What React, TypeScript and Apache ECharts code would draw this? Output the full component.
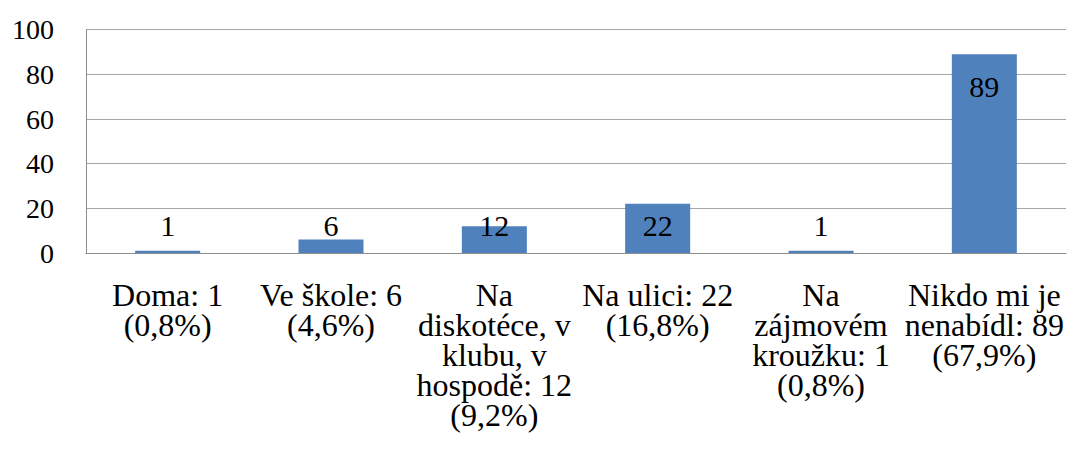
import React, { useEffect, useRef } from "react";
import * as echarts from "echarts";

const categories = [
  "Doma: 1\n(0,8%)",
  "Ve škole: 6\n(4,6%)",
  "Na\ndiskotéce, v\nklubu, v\nhospodě: 12\n(9,2%)",
  "Na ulici: 22\n(16,8%)",
  "Na\nzájmovém\nkroužku: 1\n(0,8%)",
  "Nikdo mi je\nnenabídl: 89\n(67,9%)",
];
const values = [1, 6, 12, 22, 1, 89];
const yTicks = { min: 0, max: 100, interval: 20 };

const FONT = "Liberation Serif";

export default function App() {
  const ref = useRef<HTMLDivElement>(null);
  useEffect(() => {
    if (!ref.current) return;
    const chart = echarts.init(ref.current, undefined, { renderer: "svg" });
    const data = values.map((v) => {
      const big = v > 50;
      return {
        value: v,
        label: big
          ? { position: "insideTop", distance: 17 }
          : { position: "insideBottom", distance: 13 },
      };
    });
    chart.setOption({
      animation: false,
      grid: { left: 86, right: 1, top: 29.7, bottom: 201 },
      xAxis: {
        type: "category",
        data: categories,
        axisLine: { show: true, lineStyle: { color: "#8c8c8c", width: 1 } },
        axisTick: { show: false },
        axisLabel: {
          interval: 0,
          margin: 27,
          fontFamily: FONT,
          fontSize: 32,
          lineHeight: 30,
          color: "#000",
        },
      },
      yAxis: {
        type: "value",
        min: yTicks.min,
        max: yTicks.max,
        interval: yTicks.interval,
        axisLine: { show: true, lineStyle: { color: "#8c8c8c", width: 1 } },
        axisTick: { show: false },
        splitLine: { show: true, lineStyle: { color: "#a6a6a6", width: 1 } },
        axisLabel: { margin: 32, fontFamily: FONT, fontSize: 28, color: "#000" },
      },
      series: [
        {
          type: "bar",
          data,
          barWidth: 65,
          itemStyle: { color: "#4F81BD" },
          label: { show: true, fontFamily: FONT, fontSize: 30, lineHeight: 30, color: "#000" },
        },
      ],
    });
    return () => chart.dispose();
  }, []);
  return (
    <div
      ref={ref}
      style={{ position: "absolute", left: 0, top: 0, width: 1067, height: 454, background: "#fff" }}
    />
  );
}
